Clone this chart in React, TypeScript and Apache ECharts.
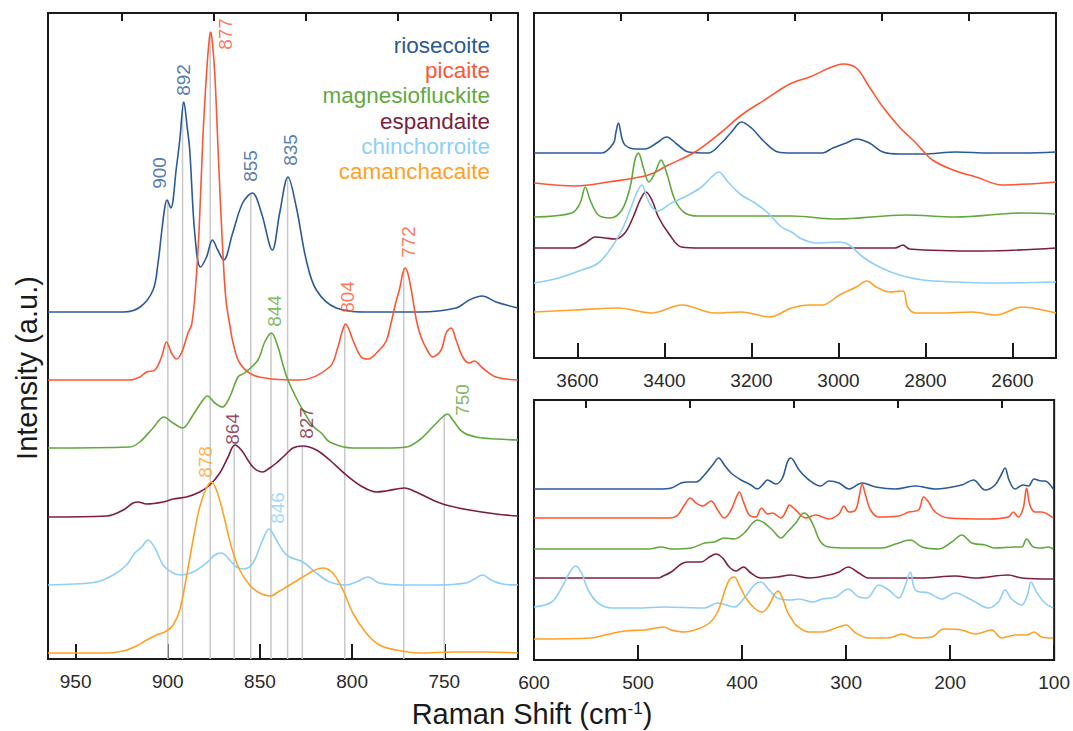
import React, { useEffect, useRef } from "react";
import * as echarts from "echarts";

// ---------- names & colours ----------
const mineralNames = ["riosecoite", "picaite", "magnesiofluckite", "espandaite", "chinchorroite", "camanchacaite"];
const mineralColors = ["#2b5a97", "#ff5533", "#62a83e", "#7c1f40", "#8ecff7", "#ffa126"];

// ---------- panel A: 710–965 cm-1 (offset intensities, a.u.) ----------
const riosecoiteA = [[965,347],[924,347],[915,352],[908,369],[905.3,396],[903.4,426],[901.6,452],[900.5,459],[898.4,451],[895.3,492],[893.5,519],[891.3,557],[889.5,532],[888.1,509],[885.4,426],[882.3,392],[879,402],[875.8,419],[872.9,409],[869.7,399],[864.8,426],[859.4,456],[854.1,466],[849.2,446],[843.3,409],[839.3,446],[834.8,482],[830.3,452],[824.9,399],[819.4,369],[808.6,351],[790.6,347],[763.5,347],[743.6,351],[736.4,359],[729.5,363],[721.9,357],[710,351]];
const picaiteA = [[965,279],[920.6,279],[915.2,282],[911.5,287],[907,289],[903.4,302],[900.7,317],[898,306],[895.3,300],[892.6,306],[889,326],[887,335],[885,370],[883,430],[881,520],[879,585],[877.5,620],[876.7,627],[876,620],[874.5,585],[872.5,500],[870.5,420],[868.5,360],[866,330],[864.6,316],[861,296],[853.8,284],[843,280],[828.5,279],[812.2,292],[807.7,312],[805.3,328],[803.6,335],[801.8,330],[799.6,319],[795.1,302],[791.5,300],[785.2,309],[781.5,318],[779,335],[776.5,355],[774,372],[772.5,386],[771.2,391],[769.8,386],[768,370],[767,359],[765,338],[762.6,322],[759,308],[756.3,302],[751.7,309],[749,326],[746.3,331],[743.6,319],[740,302],[736.4,296],[733.7,298],[729.2,291],[721.9,282],[710,279]];
const magnesiofluckiteA = [[965,211],[920.6,212],[915.2,217],[908,231],[902.2,242],[897.1,236],[892,231],[886.3,244],[881.7,257],[878.5,263],[874.5,256],[870.4,252],[866.4,262],[861.9,282],[858.3,286],[851.1,299],[847.4,317],[843.8,326],[840.2,312],[837.5,294],[834.8,279],[830,260],[825.8,246],[821.3,233],[816.7,226],[812.2,217],[799.6,211],[781.5,211],[770.7,212],[763.5,219],[756.3,232],[750.9,242],[748.2,245],[745.4,239],[740,227],[732.8,222],[721.9,220],[710,219]];
const espandaiteA = [[965,142],[933.2,143],[924.2,149],[918.8,156],[916.1,157],[911.5,155],[902.5,157],[897.1,160],[889.9,162],[882.7,167],[877.2,174],[871.8,186],[867.3,202],[863.7,214],[860.1,209],[853.8,192],[848.4,187],[844.7,191],[841.1,196],[837.5,202],[832.1,211],[826.7,213],[819.4,209],[812.2,199],[803.2,184],[794.2,172],[786.9,167],[781.5,168],[771.6,171],[765.3,167],[756.3,159],[749,154],[736.4,149],[721.9,145],[710,143]];
const chinchorroiteA = [[965,74],[951.3,75],[938.6,77],[929.6,84],[922.4,94],[917.9,106],[914.2,112],[910.7,119],[907,111],[902.5,94],[897.1,86],[892.6,84],[886.3,87],[879,96],[874.5,104],[870.9,106],[866.4,99],[862.8,92],[858.8,90],[853.8,96],[849.2,116],[845.1,130],[841.1,119],[837.5,108],[833.9,102],[826.7,97],[819.4,86],[812.2,77],[803.2,74],[797.8,77],[791.5,82],[785.2,76],[772.5,74],[754.4,74],[738.2,76],[733.7,80],[729.2,84],[724.6,79],[718.4,75],[710,74]];
const camanchacaiteA = [[965,6],[933.2,6],[924.2,8],[917,13],[911.5,19],[906.1,24],[900.7,28],[897.1,34],[893.5,49],[889.9,82],[886.3,119],[882.7,152],[879,171],[876.3,177],[873.6,169],[870,146],[865.5,112],[861,89],[855.6,74],[850.2,66],[844.7,63],[839.3,68],[835.7,72],[826.7,82],[821.3,88],[815.9,91],[810.5,86],[805,69],[799.6,46],[792.4,26],[785.2,14],[776.1,9],[763.5,6],[745.4,7],[727.4,7],[710,6]];

// ---------- panel B: 2500–3700 cm-1 ----------
const riosecoiteB = [[3700,205],[3544,205],[3517,215],[3512,225],[3506,235],[3498,220],[3491,213],[3468,209],[3445,209],[3418,215],[3395,221],[3372,214],[3345,206],[3300,205],[3269,215],[3246,226],[3223,236],[3200,230],[3170,216],[3139,206],[3108,205],[3037,205],[3013,210],[2982,215],[2959,219],[2929,215],[2898,206],[2860,204],[2806,204],[2730,206],[2653,205],[2577,205],[2500,206]];
const picaiteB = [[3700,175],[3605,172],[3529,176],[3437,183],[3391,193],[3330,206],[3269,226],[3223,243],[3170,258],[3112,274],[3066,281],[3021,290],[2990,294],[2959,290],[2929,271],[2898,251],[2860,231],[2822,215],[2784,198],[2730,187],[2684,181],[2623,173],[2562,174],[2500,176]];
const magnesiofluckiteB = [[3700,141],[3613,145],[3594,155],[3582,171],[3571,158],[3552,143],[3525,140],[3498,148],[3479,171],[3468,198],[3460,205],[3449,191],[3436,176],[3422,185],[3408,198],[3395,185],[3376,158],[3353,145],[3323,142],[3108,142],[3005,139],[2845,143],[2730,141],[2577,145],[2500,144]];
const espandaiteB = [[3700,110],[3610,110],[3582,115],[3559,121],[3537,120],[3514,119],[3491,125],[3472,141],[3456,158],[3443,166],[3429,158],[3414,141],[3391,125],[3361,111],[3315,110],[2870,110],[2852,113],[2837,109],[2669,107],[2500,110]];
const chinchorroiteB = [[3700,75],[3644,80],[3590,88],[3552,95],[3521,111],[3498,128],[3479,148],[3464,165],[3452,173],[3441,161],[3429,151],[3416,147],[3384,155],[3345,163],[3315,171],[3292,181],[3275,186],[3254,176],[3223,163],[3192,155],[3162,145],[3131,131],[3108,126],[3089,120],[3051,115],[2998,116],[2975,113],[2944,101],[2906,91],[2860,83],[2806,78],[2730,76],[2653,75],[2500,76]];
const camanchacaiteB = [[3700,46],[3605,48],[3506,50],[3430,45],[3360,53],[3284,45],[3223,46],[3158,41],[3108,50],[3066,53],[3037,53],[2998,63],[2959,71],[2935,77],[2913,71],[2883,66],[2852,67],[2841,51],[2822,45],[2768,45],[2692,46],[2638,43],[2577,51],[2531,48],[2500,45]];

// ---------- panel C: 100–600 cm-1 ----------
const riosecoiteC = [[600,171],[480,171],[468.1,172],[458.5,177],[452.2,178],[444.2,178],[436.2,185],[428.3,195],[422.5,202],[417,195],[410.6,187],[401,180],[391.5,175],[385.2,171],[380.4,175],[375.6,180],[367.5,176],[361.2,182],[356.4,198],[353.2,202],[345.2,190],[335.6,180],[324.4,174],[316.5,179],[306.9,177],[297.3,171],[284.6,177],[271.7,173],[252.6,171],[233.4,174],[214.3,171],[188.8,175],[177.6,180],[166.4,170],[156.8,175],[151,185],[147.2,192],[143.4,180],[137.6,171],[129.7,175],[124.9,174],[119.2,181],[112.2,179],[108.9,179],[100.9,171]];
const picaiteC = [[600,142],[470,142],[461.8,145],[455.4,155],[449.6,162],[444.2,157],[437.8,154],[429.8,159],[423.5,150],[417,142],[410.6,150],[405.8,162],[402.7,168],[398.6,158],[393.1,145],[386.7,143],[381.3,152],[375.6,146],[370.8,147],[362.7,142],[356.4,152],[354.8,155],[348.4,150],[338.8,142],[329.2,145],[316.5,141],[306.9,146],[302.1,154],[297.3,148],[290.9,150],[287.1,165],[284.6,176],[281.3,165],[276.5,150],[268.6,143],[249.4,144],[239.8,148],[230.3,150],[225.5,163],[220.7,158],[214.3,148],[201.5,142],[163.2,141],[144.1,143],[139.3,148],[134.5,143],[129.7,152],[126.5,172],[123.3,155],[118.5,148],[112.2,148],[100.9,142]];
const magnesiofluckiteC = [[600,111],[490,111],[477.7,113],[468,111],[449,112],[436,117],[426.6,118],[417,122],[407.5,121],[397.9,127],[389.9,137],[385.2,140],[378.7,137],[370.8,130],[362.7,122],[356.4,128],[348.4,137],[340.4,147],[335.6,143],[330.8,133],[324.4,118],[316.5,113],[297.3,112],[265.4,112],[252.6,116],[238.2,120],[227.1,113],[211.1,111],[198.4,118],[188.8,125],[179.2,117],[166.4,115],[156.8,112],[137.6,113],[131.3,113],[126.5,121],[120.1,113],[112.2,112],[105.7,113],[100.9,111]];
const espandaiteC = [[600,82],[480,82],[477.7,83],[468.1,88],[458.5,96],[452.2,98],[439.4,98],[431.4,103],[425,106],[418.7,102],[412.3,93],[405.8,89],[398.6,93],[391.5,87],[381.9,82],[366,83],[353.2,85],[335.6,82],[316.5,85],[306.9,88],[298,93],[287.7,87],[278.2,82],[227.1,82],[195.1,84],[176,82],[144.1,85],[131.3,82],[100.9,81]];
const chinchorroiteC = [[600,53],[583,58],[573.5,72],[565.5,88],[560.1,94],[554.3,87],[548,70],[538.4,57],[525.6,52],[500.1,52],[474.5,53],[436.2,52],[423.5,57],[407.5,53],[397.9,62],[388.3,75],[381.9,78],[374,70],[366,62],[353.2,60],[345.2,61],[332.5,58],[322.9,61],[310,63],[298,71],[287.7,63],[279.8,62],[268.6,75],[259,70],[249.4,62],[243,75],[238.2,88],[233.4,70],[220.7,67],[207.9,61],[195.1,67],[179.2,60],[163.2,52],[153.6,58],[147.2,70],[140.9,61],[131.3,55],[125.6,65],[122.3,78],[117,68],[108.9,57],[100.9,52]];
const camanchacaiteC = [[600,21],[544.7,22],[532,25],[512.8,29],[493.7,30],[482.5,32],[475.2,33],[468.1,30],[455.4,28],[442.6,31],[431.4,37],[423.5,48],[417,68],[412.3,80],[407.5,83],[402.7,75],[396.3,62],[388.3,52],[380.4,48],[374,55],[369.2,65],[365.3,69],[361.2,62],[356.4,48],[351.6,40],[348.4,35],[335.6,28],[322.9,28],[310,32],[299.9,35],[290.9,27],[278.2,22],[259,22],[246.3,26],[233.4,22],[217.5,23],[206.3,31],[188.8,30],[176,26],[160.1,30],[150.5,22],[137.6,25],[126.5,25],[119.2,28],[112.2,23],[100.9,22]];

// ---------- peak markers (panel A) ----------
const peakLines = [[900,459],[892,557],[877,627],[864,214],[855,466],[844,326],[835,482],[827,213],[804,335],[772,391],[750,245]];
const peakLabels = [
  { text: "900", mineral: 0, at: [904.3, 486] },
  { text: "892", mineral: 0, at: [891.6, 579] },
  { text: "877", mineral: 1, at: [868.6, 625] },
  { text: "855", mineral: 0, at: [855.0, 493] },
  { text: "835", mineral: 0, at: [833.6, 509] },
  { text: "804", mineral: 1, at: [802.5, 362] },
  { text: "772", mineral: 1, at: [769.2, 417] },
  { text: "844", mineral: 2, at: [842.0, 348] },
  { text: "750", mineral: 2, at: [740.2, 259] },
  { text: "864", mineral: 3, at: [865.1, 230] },
  { text: "827", mineral: 3, at: [824.9, 236] },
  { text: "878", mineral: 5, at: [879.4, 197] },
  { text: "846", mineral: 4, at: [840.4, 151] },
];

// ---------- axis ticks ----------
const majorTicksA = [950, 900, 850, 800, 750];
const minorTicksA = [925, 875, 825, 775, 725];
const majorTicksB = [3600, 3400, 3200, 3000, 2800, 2600];
const minorTicksB = [3500, 3300, 3100, 2900, 2700];
const majorTicksC = [600, 500, 400, 300, 200, 100];
const minorTicksC = [550, 450, 350, 250, 150];

const panelA = [riosecoiteA, picaiteA, magnesiofluckiteA, espandaiteA, chinchorroiteA, camanchacaiteA];
const panelB = [riosecoiteB, picaiteB, magnesiofluckiteB, espandaiteB, chinchorroiteB, camanchacaiteB];
const panelC = [riosecoiteC, picaiteC, magnesiofluckiteC, espandaiteC, chinchorroiteC, camanchacaiteC];

const SANS = "'Liberation Sans', Arial, Helvetica, sans-serif";
const NARROW = "'Liberation Sans Narrow', 'Liberation Sans', Arial, sans-serif";

function axisPair(gridIndex: number, min: number, max: number, major: number[], minor: number[]) {
  const base = {
    type: "value",
    gridIndex,
    min,
    max,
    inverse: true,
    axisLine: { show: false },
    splitLine: { show: false },
  };
  return [
    {
      ...base,
      axisTick: { show: true, inside: true, length: 15, customValues: major, lineStyle: { color: "#1a1a1a", width: 2 } },
      axisLabel: {
        show: true,
        customValues: major,
        margin: 13,
        fontSize: 19,
        color: "#2a2a2a",
        fontFamily: NARROW,
        formatter: (v: number) => String(v),
      },
    },
    {
      ...base,
      axisTick: { show: true, inside: true, length: 8, customValues: minor, lineStyle: { color: "#1a1a1a", width: 2 } },
      axisLabel: { show: false },
    },
  ];
}

export default function App() {
  const ref = useRef<HTMLDivElement>(null);

  useEffect(() => {
    if (!ref.current) return;
    const chart = echarts.init(ref.current, null, { renderer: "svg" });

    const gridStyle = { show: true, borderColor: "#1a1a1a", borderWidth: 2, backgroundColor: "transparent" };
    const grids = [
      { left: 48, top: 13, width: 470, height: 646, ...gridStyle },
      { left: 534, top: 13, width: 522, height: 345, ...gridStyle },
      { left: 534, top: 400, width: 522, height: 260, ...gridStyle },
    ];

    const xAxes = [
      ...axisPair(0, 710, 965, majorTicksA, minorTicksA),
      ...axisPair(1, 2500, 3700, majorTicksB, minorTicksB),
      ...axisPair(2, 100, 600, majorTicksC, minorTicksC),
    ];
    const yAxes = [
      { type: "value", gridIndex: 0, min: 0, max: 646, show: false },
      { type: "value", gridIndex: 1, min: 0, max: 345, show: false },
      { type: "value", gridIndex: 2, min: 0, max: 260, show: false },
    ];

    const series: any[] = [];
    peakLines.forEach(([x, top]) => {
      series.push({
        type: "line",
        xAxisIndex: 0,
        yAxisIndex: 0,
        data: [[x, 0], [x, top]],
        showSymbol: false,
        silent: true,
        lineStyle: { color: "#c9c9c9", width: 1.5 },
        z: 1,
      });
    });
    [panelA, panelB, panelC].forEach((panel, p) => {
      panel.forEach((data, m) => {
        series.push({
          name: mineralNames[m],
          type: "line",
          xAxisIndex: p * 2,
          yAxisIndex: p,
          data,
          showSymbol: false,
          smooth: 0.35,
          silent: true,
          lineStyle: { color: mineralColors[m], width: 1.6 },
          z: 3,
        });
      });
    });
    series.push({
      type: "scatter",
      xAxisIndex: 0,
      yAxisIndex: 0,
      symbolSize: 0,
      silent: true,
      z: 5,
      data: peakLabels.map((l) => ({
        value: l.at,
        label: {
          show: true,
          formatter: l.text,
          rotate: 90,
          position: "inside",
          color: mineralColors[l.mineral],
          fontSize: 19,
          fontFamily: SANS,
        },
      })),
    });

    // legend: right-aligned coloured names
    const graphic: any[] = mineralNames.map((n, i) => ({
      type: "text",
      x: 490,
      y: 45.5 + 25.2 * i,
      silent: true,
      style: {
        text: n,
        fill: mineralColors[i],
        fontSize: 22.5,
        fontFamily: SANS,
        align: "right",
        verticalAlign: "middle",
      },
    }));
    graphic.push({
      type: "text",
      x: 27,
      y: 368,
      rotation: Math.PI / 2,
      silent: true,
      style: {
        text: "Intensity (a.u.)",
        fill: "#1a1a1a",
        fontSize: 29,
        fontFamily: SANS,
        align: "center",
        verticalAlign: "middle",
      },
    });
    graphic.push({
      type: "text",
      x: 532,
      y: 714,
      silent: true,
      style: {
        text: "{a|Raman Shift (cm}{b|-1}{a|)}",
        align: "center",
        verticalAlign: "middle",
        rich: {
          a: { fontSize: 29, fontFamily: SANS, fill: "#1a1a1a" },
          b: { fontSize: 17, fontFamily: SANS, fill: "#1a1a1a", verticalAlign: "top" },
        },
      },
    });

    chart.setOption({
      animation: false,
      backgroundColor: "#ffffff",
      grid: grids,
      xAxis: xAxes,
      yAxis: yAxes,
      series,
      graphic,
    });

    return () => chart.dispose();
  }, []);

  return (
    <div
      ref={ref}
      style={{ position: "absolute", left: 0, top: 0, width: 1073, height: 731, background: "#fff" }}
    />
  );
}
